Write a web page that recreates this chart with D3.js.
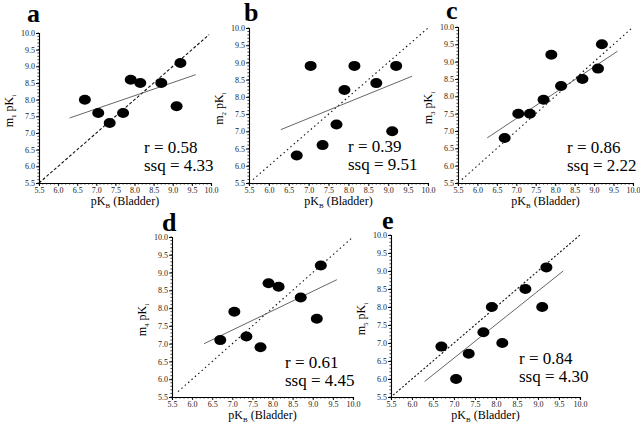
<!DOCTYPE html>
<html>
<head>
<meta charset="utf-8">
<script src="https://cdn.jsdelivr.net/npm/d3@7"></script>
<style>
  body { margin: 0; background: #fff; }
  svg { display: block; }
  svg text { font-family: "Liberation Serif", "Times New Roman", "DejaVu Serif", serif; }
</style>
</head>
<body>
<svg id="chart" width="640" height="427"></svg>
<script>
// pK_B (Bladder) values, shared by all panels
const pKB = [6.7, 7.05, 7.35, 7.7, 7.9, 8.15, 8.7, 9.1, 9.2];

// m_n pK_i values
const m1 = [8.0, 7.6, 7.3, 7.6, 8.6, 8.5, 8.5, 7.8, 9.1];
const m2 = [6.3, 8.9, 6.6, 7.2, 8.2, 8.9, 8.4, 7.0, 8.9];
const m3 = [6.8, 7.5, 7.5, 7.9, 9.2, 8.3, 8.5, 8.8, 9.5];
const m4 = [7.1, 7.9, 7.2, 6.9, 8.7, 8.6, 8.3, 7.7, 9.2];
const m5 = [6.9, 6.0, 6.7, 7.3, 8.0, 7.0, 8.5, 8.0, 9.1];

// fitted line end points [[x0, y0], [x1, y1]]
const fitA = [[6.3, 7.45], [9.6, 8.75]];
const fitB = [[6.3, 7.05], [9.6, 8.6]];
const fitC = [[6.25, 6.8], [9.6, 9.3]];
const fitD = [[6.3, 7.0], [9.6, 8.8]];
const fitE = [[6.3, 5.93], [9.6, 9.0]];

const rVals = ['0.58', '0.39', '0.86', '0.61', '0.84'];
const ssqVals = ['4.33', '9.51', '2.22', '4.45', '4.30'];
const letters = ['a', 'b', 'c', 'd', 'e'];
const subs = ['1', '2', '3', '4', '5'];
const ticks = [5.5, 6.0, 6.5, 7.0, 7.5, 8.0, 8.5, 9.0, 9.5, 10.0];

const series = [m1, m2, m3, m4, m5];
const fits = [fitA, fitB, fitC, fitD, fitE];

const SERIF = '"Liberation Serif", "Times New Roman", "DejaVu Serif", serif';

// panel frames in px (left, right, bottom, top) plus a few offsets
const panels = [
  { l: 39,  r: 211, b: 183, t: 33,  dash: '3,2', id: [5.5, 9.95], txtX: 105, txtY: 30, lx: 27,  ly: 22 },
  { l: 249, r: 428, b: 183, t: 28,  dash: '1.5,3', id: [5.6, 10], txtX: 99,  txtY: 31, lx: 244, ly: 21 },
  { l: 458, r: 633, b: 183, t: 27,  dash: '1.5,3', id: [5.6, 9.95], txtX: 109, txtY: 30, lx: 446, ly: 19 },
  { l: 172, r: 353, b: 397, t: 237, dash: '1.5,3', id: [5.65, 9.97], txtX: 113, txtY: 29, lx: 162, ly: 231 },
  { l: 391, r: 580, b: 397, t: 235, dash: '2,2', id: [5.55, 10], txtX: 128, txtY: 33, lx: 382, ly: 229 }
];

const svg = d3.select('#chart');
const fmt = d3.format('.1f');

panels.forEach((p, i) => {
  const x = d3.scaleLinear().domain([5.5, 10]).range([p.l, p.r]);
  const y = d3.scaleLinear().domain([5.5, 10]).range([p.b, p.t]);
  const g = svg.append('g');

  // axes
  const xAxis = d3.axisBottom(x).tickValues(ticks).tickFormat(fmt).tickSize(3).tickPadding(1);
  const yAxis = d3.axisLeft(y).tickValues(ticks).tickFormat(fmt).tickSize(3).tickPadding(1);
  const minor = d3.range(55, 101).map(v => v / 10);

  const gx = g.append('g').attr('transform', `translate(0,${p.b})`).call(xAxis);
  gx.append('g').selectAll('line').data(minor).join('line')
    .attr('x1', d => x(d)).attr('x2', d => x(d)).attr('y1', 0).attr('y2', 1.6)
    .attr('stroke', '#000').attr('stroke-width', 0.7);
  const gy = g.append('g').attr('transform', `translate(${p.l},0)`).call(yAxis);
  gy.append('g').selectAll('line').data(minor).join('line')
    .attr('y1', d => y(d)).attr('y2', d => y(d)).attr('x1', 0).attr('x2', -1.6)
    .attr('stroke', '#000').attr('stroke-width', 0.7);

  [gx, gy].forEach(a => {
    a.attr('font-family', SERIF);
    a.selectAll('.domain').attr('stroke', '#000').attr('stroke-width', 1.1);
    a.selectAll('.tick line').attr('stroke', '#000').attr('stroke-width', 0.9);
    a.selectAll('text').attr('font-size', 8).attr('font-family', SERIF).attr('fill', '#222');
  });

  // identity line
  g.append('line')
    .attr('x1', x(p.id[0])).attr('y1', y(p.id[0]))
    .attr('x2', x(p.id[1])).attr('y2', y(p.id[1]))
    .attr('stroke', '#111').attr('stroke-width', 1.1)
    .attr('stroke-dasharray', p.dash);

  // fitted line
  g.append('line')
    .attr('x1', x(fits[i][0][0])).attr('y1', y(fits[i][0][1]))
    .attr('x2', x(fits[i][1][0])).attr('y2', y(fits[i][1][1]))
    .attr('stroke', '#555').attr('stroke-width', 0.9);

  // points
  g.append('g').selectAll('ellipse')
    .data(pKB.map((v, k) => [v, series[i][k]]))
    .join('ellipse')
    .attr('cx', d => x(d[0])).attr('cy', d => y(d[1]))
    .attr('rx', 6).attr('ry', 5)
    .attr('fill', '#000');

  // r / ssq text
  const tx = p.l + p.txtX, ty = p.b - p.txtY;
  g.append('text').attr('x', tx).attr('y', ty)
    .attr('font-family', SERIF).attr('font-size', 17).attr('fill', '#000')
    .text(`r = ${rVals[i]}`);
  g.append('text').attr('x', tx).attr('y', ty + 18)
    .attr('font-family', SERIF).attr('font-size', 17).attr('fill', '#000')
    .text(`ssq = ${ssqVals[i]}`);

  // x title
  const xt = g.append('text')
    .attr('x', (p.l + p.r) / 2).attr('y', p.b + 22)
    .attr('font-family', SERIF)
    .attr('text-anchor', 'middle').attr('font-size', 12).attr('fill', '#000');
  xt.append('tspan').text('pK');
  xt.append('tspan').attr('font-size', 7).attr('dy', 3).text('B');
  xt.append('tspan').attr('dy', -3).text(' (Bladder)');

  // y title
  const yt = g.append('text')
    .attr('transform', `translate(${p.l - 26},${(p.t + p.b) / 2 + 3}) rotate(-90)`)
    .attr('font-family', SERIF)
    .attr('text-anchor', 'middle').attr('font-size', 12).attr('fill', '#000');
  yt.append('tspan').text('m');
  yt.append('tspan').attr('font-size', 7).attr('dy', 3).text(subs[i]);
  yt.append('tspan').attr('dy', -3).text(' pK');
  yt.append('tspan').attr('font-size', 7).attr('dy', 3).text('i');

  // panel letter
  g.append('text').attr('x', p.lx).attr('y', p.ly)
    .attr('font-family', SERIF)
    .attr('font-size', 26).attr('font-weight', 'bold').attr('fill', '#000')
    .text(letters[i]);
});
</script>
</body>
</html>
